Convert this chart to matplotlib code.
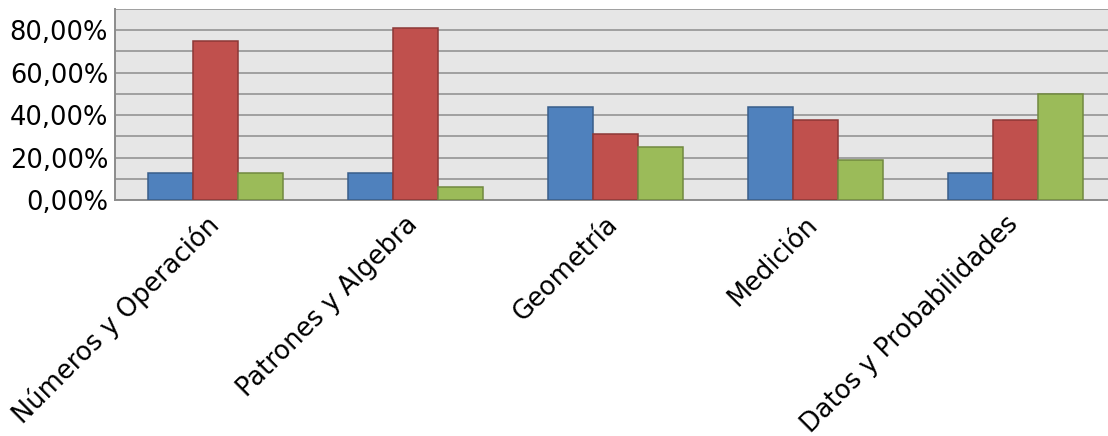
import numpy as np
import matplotlib.pyplot as plt
from matplotlib.ticker import FuncFormatter, MultipleLocator

# Category labels and the three series (fractions)
categories = ["Números y Operación", "Patrones y Algebra", "Geometría", "Medición", "Datos y Probabilidades"]
serie_1 = [0.125, 0.125, 0.4375, 0.4375, 0.125]
serie_2 = [0.75, 0.8125, 0.3125, 0.375, 0.375]
serie_3 = [0.125, 0.0625, 0.25, 0.1875, 0.50]

colors = ["#4F81BD", "#C0504D", "#9BBB59"]
edges = ["#385D8A", "#8C3836", "#71893F"]

W, H = 1108, 436
fig = plt.figure(figsize=(W / 100, H / 100), dpi=100)
ax = fig.add_axes([115 / W, 1 - 200 / H, (W - 115) / W, 191 / H])
ax.set_facecolor("#E6E6E6")

x = np.arange(len(categories))
bw = 0.225
for i, vals in enumerate([serie_1, serie_2, serie_3]):
    ax.bar(x + (i - 1) * bw, vals, width=bw, color=colors[i], edgecolor=edges[i],
           linewidth=1.1, zorder=3)

ax.set_xlim(-0.5, -0.5 + (W - 115) / 200)
ax.set_ylim(0, 0.9)
ax.yaxis.set_major_locator(MultipleLocator(0.2))
ax.yaxis.set_minor_locator(MultipleLocator(0.1))
ax.yaxis.set_major_formatter(FuncFormatter(lambda v, p: f"{v * 100:.2f}%".replace(".", ",")))
ax.grid(axis="y", which="both", color="#A0A0A0", linewidth=1.4, zorder=1)

# labels end a little left of the category centre
ax.set_xticks(x - 0.05)
ax.set_xticklabels(categories, rotation=45, ha="right", rotation_mode="anchor")
ax.tick_params(axis="both", which="both", length=0, labelsize=18.5)
ax.tick_params(axis="x", pad=8)
ax.tick_params(axis="y", pad=5)

for s in ["top", "right"]:
    ax.spines[s].set_visible(False)
ax.spines["left"].set_color("#8C8C8C")
ax.spines["left"].set_linewidth(1.4)
ax.spines["bottom"].set_color("#8C8C8C")
ax.spines["bottom"].set_linewidth(1.4)

fig.savefig("out.png", dpi=100)
